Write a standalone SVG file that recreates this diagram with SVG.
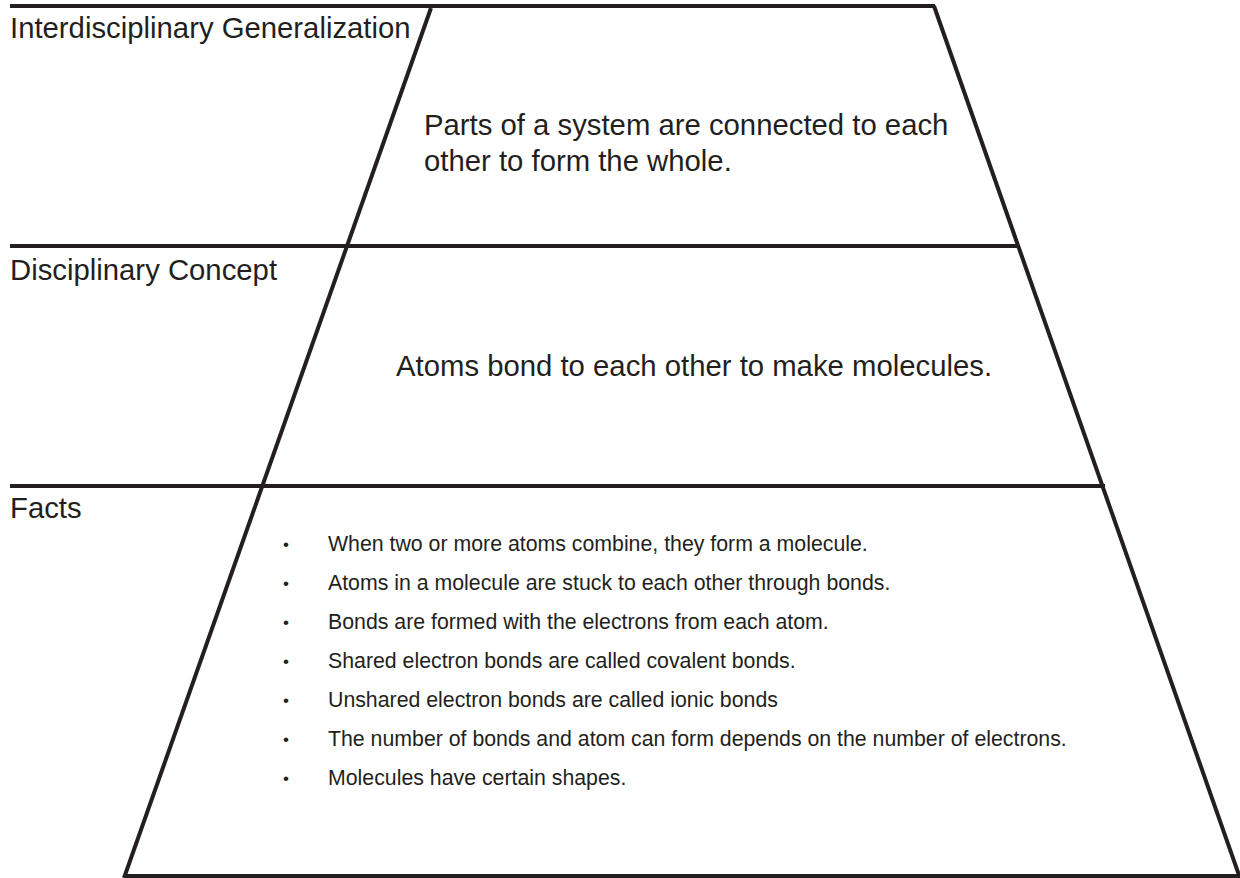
<svg xmlns="http://www.w3.org/2000/svg" width="1240" height="878" viewBox="0 0 1240 878">
<style>
.ln{stroke:#231f20;stroke-width:4;fill:none;stroke-linecap:butt}
.hd{font-family:"Liberation Sans",Arial,Helvetica,sans-serif;font-size:29.3px;fill:#231f20}
.ft{font-family:"Liberation Sans",Arial,Helvetica,sans-serif;font-size:21.3px;fill:#231f20}
.bl{font-family:"Liberation Sans",Arial,Helvetica,sans-serif;font-size:17px;fill:#231f20}
</style>
<rect width="1240" height="878" fill="#ffffff"/>
<g id="connectors">
<line class="ln" x1="10" y1="6" x2="935" y2="6"/>
<line class="ln" x1="431" y1="8" x2="124" y2="878"/>
<line class="ln" x1="934" y1="6" x2="1240" y2="878"/>
<line class="ln" x1="10" y1="246" x2="1018" y2="246"/>
<line class="ln" x1="10" y1="486" x2="1105" y2="486"/>
<line class="ln" x1="124" y1="876" x2="1240" y2="876"/>
</g>
<g id="node-generalization">
<text class="hd" x="10" y="38">Interdisciplinary Generalization</text>
<text class="hd" x="424" y="135">Parts of a system are connected to each</text>
<text class="hd" x="424" y="171">other to form the whole.</text>
</g>
<g id="node-concept">
<text class="hd" x="10" y="280">Disciplinary Concept</text>
<text class="hd" x="396" y="376">Atoms bond to each other to make molecules.</text>
</g>
<g id="node-facts">
<text class="hd" x="10" y="518">Facts</text>
<g class="bl">
<text x="283" y="550">•</text>
<text x="283" y="589">•</text>
<text x="283" y="628">•</text>
<text x="283" y="667">•</text>
<text x="283" y="706">•</text>
<text x="283" y="745">•</text>
<text x="283" y="784">•</text>
</g>
<g class="ft">
<text x="328" y="551">When two or more atoms combine, they form a molecule.</text>
<text x="328" y="590">Atoms in a molecule are stuck to each other through bonds.</text>
<text x="328" y="629">Bonds are formed with the electrons from each atom.</text>
<text x="328" y="668">Shared electron bonds are called covalent bonds.</text>
<text x="328" y="707">Unshared electron bonds are called ionic bonds</text>
<text x="328" y="746">The number of bonds and atom can form depends on the number of electrons.</text>
<text x="328" y="785">Molecules have certain shapes.</text>
</g>
</g>
</svg>
